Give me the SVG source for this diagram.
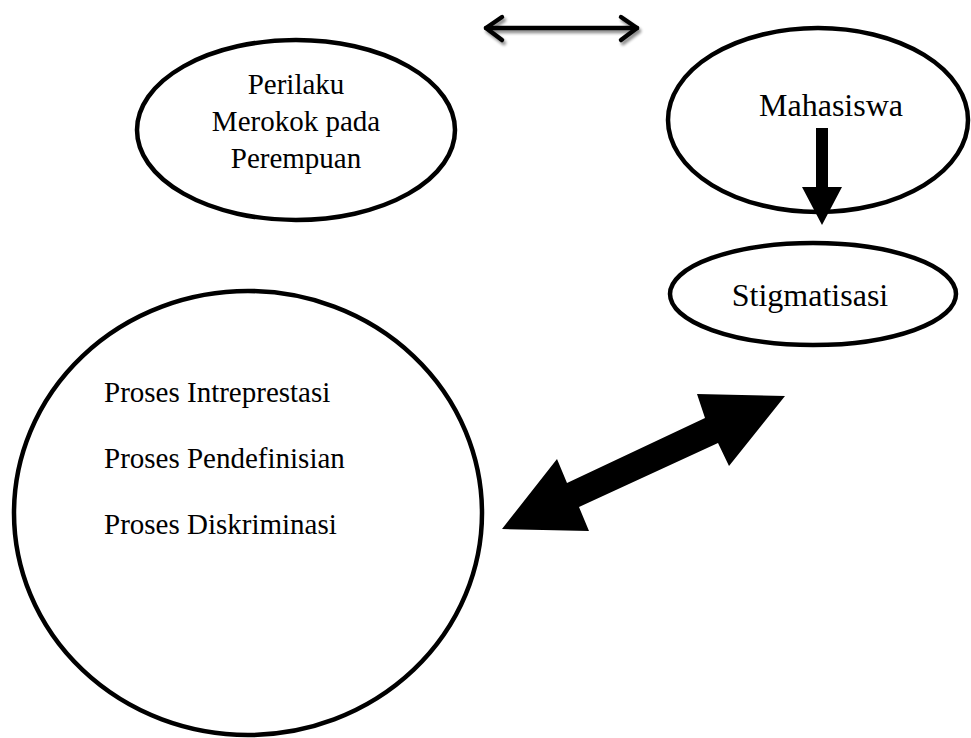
<svg xmlns="http://www.w3.org/2000/svg" width="971" height="738" viewBox="0 0 971 738">
<style>
  .node { fill: #ffffff; stroke: #000000; stroke-width: 4.5; }
  .lbl { font-family: "Liberation Serif", "Times New Roman", serif; font-size: 29px; fill: #000000; }
  .big { font-size: 32px; }
  .mid { text-anchor: middle; }
</style>
<defs>
  <filter id="shadow" x="-10%" y="-50%" width="120%" height="200%">
    <feGaussianBlur in="SourceAlpha" stdDeviation="1.5"/>
    <feOffset dx="1.5" dy="2.5" result="b"/>
    <feComponentTransfer><feFuncA type="linear" slope="0.45"/></feComponentTransfer>
    <feMerge><feMergeNode/><feMergeNode in="SourceGraphic"/></feMerge>
  </filter>
</defs>
<rect width="971" height="738" fill="#ffffff"/>

<g id="node-perilaku">
  <ellipse class="node" cx="296" cy="130" rx="159" ry="90"/>
  <text class="lbl mid" x="296" y="94">Perilaku</text>
  <text class="lbl mid" x="296" y="131">Merokok pada</text>
  <text class="lbl mid" x="296" y="168">Perempuan</text>
</g>

<g id="node-mahasiswa">
  <ellipse class="node" cx="818" cy="120" rx="150" ry="92"/>
  <text class="lbl big mid" x="831" y="116">Mahasiswa</text>
</g>

<g id="node-stigmatisasi">
  <ellipse class="node" cx="813" cy="294" rx="143" ry="51"/>
  <text class="lbl big mid" x="810" y="306">Stigmatisasi</text>
</g>

<g id="node-proses">
  <ellipse class="node" cx="248" cy="513" rx="234" ry="222"/>
  <text class="lbl" x="104" y="402">Proses Intreprestasi</text>
  <text class="lbl" x="104" y="468">Proses Pendefinisian</text>
  <text class="lbl" x="104" y="534">Proses Diskriminasi</text>
</g>

<g id="connectors">
  <g filter="url(#shadow)" fill="none" stroke="#000" stroke-width="4.5" stroke-linecap="round" stroke-linejoin="round">
    <line x1="486" y1="28" x2="637" y2="28"/>
    <polyline points="502,17 486,28 502,40"/>
    <polyline points="621,17 637,28 621,40"/>
  </g>
  <polygon fill="#000" points="816,128 828,128 828,187 842,187 822,225 802,187 816,187"/>
  <polygon fill="#000" points="502,529 557,459 567,483 705,418 697,394 785,396 729,466 718,443 579,507 589,531"/>
</g>
</svg>
